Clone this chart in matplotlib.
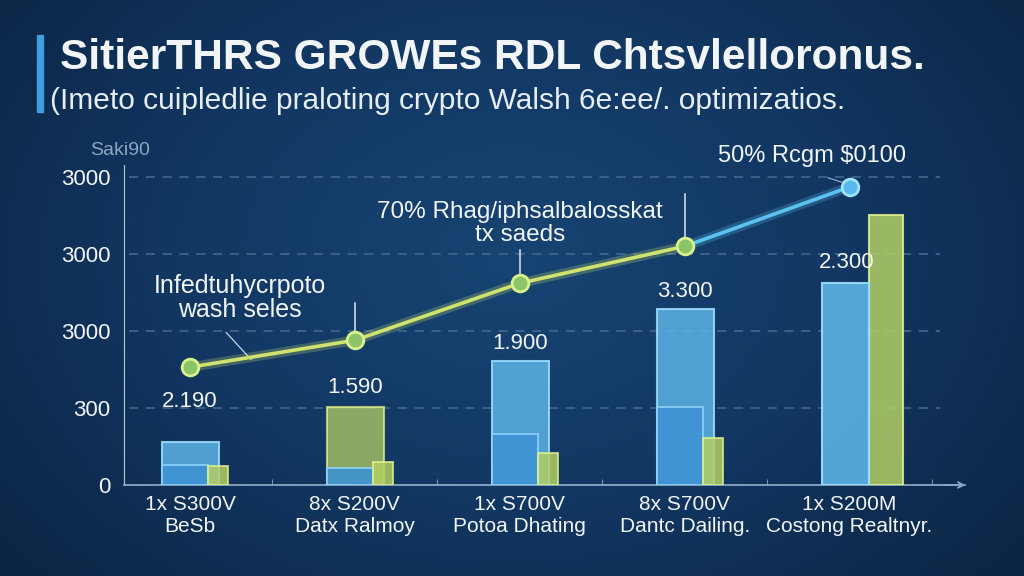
import numpy as np
import matplotlib.pyplot as plt
import matplotlib.patheffects as pe
from matplotlib.colors import LinearSegmentedColormap

# ---- text
title = "SitierTHRS GROWEs RDL Chtsvlelloronus."
subtitle = "(Imeto cuipledlie praloting crypto Walsh 6e:ee/. optimizatios."
y_caption = "Saki90"
groups = ["1x S300V\nBeSb", "8x S200V\nDatx Ralmoy", "1x S700V\nPotoa Dhating",
          "8x S700V\nDantc Dailing.", "1x S200M\nCostong Realtnyr."]
ytick_vals = [0, 1, 2, 3, 4]
ytick_labels = ["0", "300", "3000", "3000", "3000"]

# ---- data (in gridline units)
outer = [0.56, 1.01, 1.61, 2.29, np.nan]
base = [0.26, 0.22, 0.66, 1.01, 2.62]
extra = [0.25, 0.30, 0.42, 0.61, 3.51]
bar_labels = ["2.190", "1.590", "1.900", "3.300", "2.300"]
trend = [1.53, 1.88, 2.62, 3.10, 3.87]

note1 = "Infedtuhycrpoto\nwash seles"
note2 = "70% Rhag/iphsalbalosskat\ntx saeds"
note3 = "50% Rcgm \\$0100"

# ---- colours
BLUE_L = "#5cb3e6"
BLUE_M = "#3f93d4"
GREEN = "#b3cf64"
LINE_G = "#cfe36e"
LINE_B = "#5cc3f0"
GRID = "#4a6a90"
WHITE = "#f2f5f8"

plt.rcParams['font.family'] = ['Liberation Sans', 'DejaVu Sans']

fig = plt.figure(figsize=(10.24, 5.76), dpi=100)

# background radial gradient
bg = fig.add_axes([0, 0, 1, 1], zorder=-10)
yy, xx = np.mgrid[0:1:300j, 0:1:500j]
r = np.sqrt(((xx - 0.5) * 1.3) ** 2 + (yy - 0.45) ** 2)
cmap_bg = LinearSegmentedColormap.from_list("bg", ["#174473", "#123762", "#0b2443"])
bg.imshow(r, cmap=cmap_bg, aspect='auto', extent=[0, 1, 0, 1], vmin=0, vmax=0.85)
bg.set_axis_off()

# title block
fig.patches.append(plt.Rectangle((37 / 1024, 1 - 112 / 576), 6 / 1024, 77 / 576,
                                 transform=fig.transFigure, color="#3f9ee0"))
fig.text(60 / 1024, 1 - 58 / 576, title, color=WHITE, fontsize=30.5, fontweight='bold',
         va='center', ha='left')
fig.text(50 / 1024, 1 - 101 / 576, subtitle, color="#e6edf4", fontsize=21.5,
         va='center', ha='left')

ax = fig.add_axes([124 / 1024, 1 - 485 / 576, (965 - 124) / 1024, 320 / 576])
ax.set_facecolor('none')
ax.set_xlim(-0.4, 4.7)
ax.set_ylim(0, 320 / 77)

x = np.arange(len(groups))
px = 1 / 165.0

# bars: wide outer bar, inner bar and narrow side bar
outer_col = [BLUE_L, GREEN, BLUE_L, BLUE_L, BLUE_L]
for i in range(len(groups)):
    if not np.isnan(outer[i]):
        c = outer_col[i]
        ec = "#9fe0ff" if c == BLUE_L else "#e2f290"
        ax.bar(x[i] - 28 * px, outer[i], width=57 * px, align='edge', color=c,
               alpha=0.85 if c == BLUE_L else 0.75, edgecolor=ec, linewidth=1.5, zorder=3)
        ax.bar(x[i] - 28 * px, base[i], width=46 * px, align='edge', color=BLUE_M,
               alpha=0.9, edgecolor="#8fd4fa", linewidth=1.3, zorder=4)
        ax.bar(x[i] + 18 * px, extra[i], width=20 * px, align='edge', color=GREEN,
               alpha=0.85, edgecolor="#e2f290", linewidth=1.3, zorder=4)
    else:
        ax.bar(x[i] - 28 * px, base[i], width=47 * px, align='edge', color=BLUE_L,
               alpha=0.9, edgecolor="#9fe0ff", linewidth=1.5, zorder=4)
        ax.bar(x[i] + 19 * px, extra[i], width=34 * px, align='edge', color=GREEN,
               alpha=0.85, edgecolor="#e2f290", linewidth=1.5, zorder=3)

# bar value labels
label_pad = [30, 9, 7, 7, 10]
for i in range(len(groups)):
    top = base[i] if np.isnan(outer[i]) else outer[i]
    ax.annotate(bar_labels[i], (x[i] - (3 * px if i == 4 else 0), top),
                xytext=(0, label_pad[i] * 0.72), textcoords='offset points',
                ha='center', va='bottom', color=WHITE, fontsize=16, zorder=6)

# trend line
ax.plot(x[:4], trend[:4], color=LINE_G, lw=2.6, zorder=7,
        path_effects=[pe.Stroke(linewidth=7, foreground=LINE_G, alpha=0.25), pe.Normal()])
ax.plot(x[3:], trend[3:], color=LINE_B, lw=2.6, zorder=7,
        path_effects=[pe.Stroke(linewidth=7, foreground=LINE_B, alpha=0.25), pe.Normal()])
ax.plot(x[:4], trend[:4], 'o', ms=12, mfc="#8cc468", mec="#d8f28c", mew=2, zorder=8)
ax.plot(x[4:], trend[4:], 'o', ms=12, mfc="#5ab8ec", mec="#9fe4ff", mew=2, zorder=8)

# annotations
ax.text(0.3, trend[0] + 0.9, note1, ha='center', va='center', color=WHITE,
        fontsize=18, linespacing=1.0, zorder=6)
ax.plot([0.22, 0.37], [trend[0] + 0.45, trend[0] + 0.1], color="#c8d6e4", lw=0.9, zorder=6)
ax.text(2.0, trend[2] + 0.78, note2, ha='center', va='center', color=WHITE,
        fontsize=17.5, linespacing=1.05, zorder=6)
ax.plot([1, 1], [trend[1] + 0.1, trend[1] + 0.48], color="#dde6ee", lw=1.1, zorder=6)
ax.plot([2, 2], [trend[2] + 0.08, trend[2] + 0.43], color="#dde6ee", lw=1.1, zorder=6)
ax.plot([3, 3], [trend[3] + 0.1, trend[3] + 0.68], color="#dde6ee", lw=1.1, zorder=6)
ax.text(3.77, trend[4] + 0.4, note3, ha='center', va='center', color=WHITE,
        fontsize=17, zorder=6)
ax.plot([3.87, 4.0], [trend[4] + 0.12, trend[4] + 0.03], color="#9fb4c8", lw=0.8, zorder=6)

# grid
for v in ytick_vals[1:]:
    ax.plot([-0.37, 4.55], [v, v], color=GRID, lw=1.1, ls=(0, (6, 5)), zorder=1)

# axes
for s in ['top', 'right']:
    ax.spines[s].set_visible(False)
ax.spines['left'].set_color("#b8c8d8")
ax.spines['bottom'].set_color("#8aa6c4")
ax.spines['left'].set_bounds(0, 4.15)
ax.spines['bottom'].set_linewidth(1.3)
ax.annotate("", xy=(4.72, 0), xytext=(4.55, 0), xycoords='data',
            arrowprops=dict(arrowstyle='->', color="#8aa6c4", lw=1.3), annotation_clip=False)

ax.set_yticks(ytick_vals)
ax.set_yticklabels(ytick_labels)
ax.set_xticks(x)
ax.set_xticklabels(groups, linespacing=1.25)
ax.set_xticks(x + 0.5, minor=True)
ax.tick_params(axis='both', which='major', length=0, colors=WHITE, labelsize=16)
ax.tick_params(axis='x', which='major', pad=7, labelsize=15)
ax.tick_params(axis='x', which='minor', length=4, direction='in', color="#8aa6c4")
ax.tick_params(axis='y', pad=10)

fig.text(120 / 1024, 1 - 150 / 576, y_caption, color="#a9c4de", fontsize=14,
         ha='center', va='center', alpha=0.8)

fig.savefig("out.png", dpi=100)
